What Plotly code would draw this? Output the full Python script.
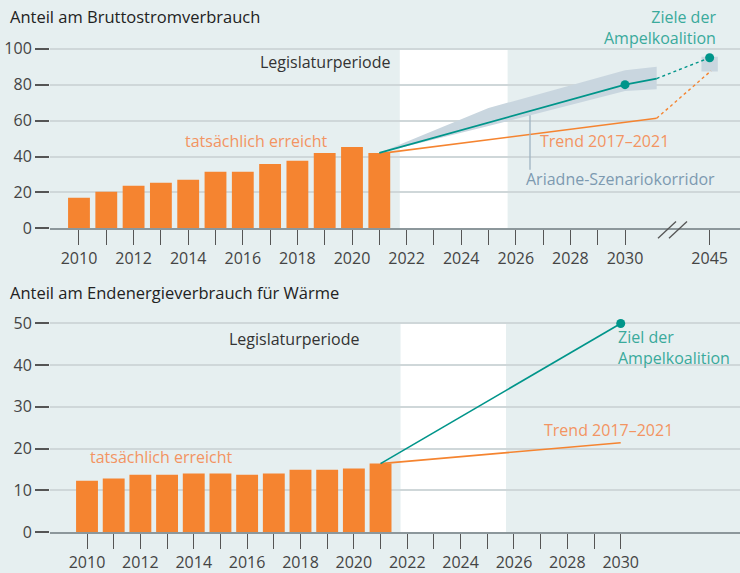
import plotly.graph_objects as go

W, H = 740, 573          # reference size (all pixel positions below refer to it)
FIG_H = 583              # rendered figure height (page is photographed at 573)

# ---------------- data ----------------
years = list(range(2010, 2022))
strom_share = [17.1, 20.4, 23.8, 25.4, 27.1, 31.5, 31.5, 35.9, 37.6, 42.0, 45.3, 42.0]
waerme_share = [12.3, 12.8, 13.7, 13.7, 14.0, 14.0, 13.7, 14.0, 14.9, 14.9, 15.2, 16.4]

# Strom: Ziele der Ampelkoalition
strom_target_years = [2021, 2030, 2031.16]
strom_target_vals = [42.0, 80.0, 83.4]
strom_goal_2045 = 95.0
# Strom: Trend 2017-2021
strom_trend_years = [2021, 2031.16]
strom_trend_vals = [41.6, 61.3]
strom_trend_2045 = 87.7
# Ariadne-Szenariokorridor
corridor_years = [2021, 2025, 2030, 2031.16]
corridor_low = [42.0, 57.0, 76.5, 77.5]
corridor_high = [42.0, 67.0, 88.0, 90.0]
corridor_2045 = [87.3, 95.6]

# Wärme
waerme_target_years = [2021, 2030]
waerme_target_vals = [16.4, 50.0]
waerme_trend_years = [2021, 2030]
waerme_trend_vals = [16.4, 21.4]

legislatur = [2021.75, 2025.7]

top_ticks = list(range(2010, 2031))
top_ticklabels = [str(y) if y % 2 == 0 else "" for y in top_ticks]
BREAK_POS = 2033.1   # axis position at which 2045 is drawn (broken axis)

# ---------------- styles ----------------
BG = "#e6eff0"
ORANGE = "#f58430"
ORANGE_TXT = "#f39462"
TEAL = "#00958a"
TEAL_TXT = "#3aaa9c"
CORR = "#c9d6df"
ARIADNE = "#7d9ab0"
GRID = "#cfd7d9"
FONT = "Open Sans"
ANN_SIZE = 16
TICK_SIZE = 16


def px(x):
    return x / W


def py(y):
    return 1 - y / H


fig = go.Figure()

# ---------- top chart ----------
fig.add_trace(go.Scatter(
    x=corridor_years + corridor_years[::-1],
    y=corridor_high + corridor_low[::-1],
    fill="toself", fillcolor=CORR, line=dict(width=0), mode="lines",
    hoverinfo="skip", xaxis="x", yaxis="y"))
fig.add_trace(go.Bar(
    x=[BREAK_POS], y=[corridor_2045[1] - corridor_2045[0]], base=[corridor_2045[0]],
    width=0.6, marker=dict(color=CORR, line=dict(width=0)), xaxis="x", yaxis="y"))
fig.add_trace(go.Bar(
    x=years, y=strom_share, width=0.8,
    marker=dict(color=ORANGE, line=dict(width=0)), xaxis="x", yaxis="y"))
fig.add_trace(go.Scatter(
    x=strom_trend_years, y=strom_trend_vals, mode="lines",
    line=dict(color=ORANGE, width=1.6), xaxis="x", yaxis="y"))
fig.add_trace(go.Scatter(
    x=[strom_trend_years[-1], BREAK_POS + 0.05], y=[strom_trend_vals[-1], strom_trend_2045],
    mode="lines", line=dict(color=ORANGE, width=1.4, dash="dot"), xaxis="x", yaxis="y"))
fig.add_trace(go.Scatter(
    x=strom_target_years, y=strom_target_vals, mode="lines",
    line=dict(color=TEAL, width=1.8), xaxis="x", yaxis="y"))
fig.add_trace(go.Scatter(
    x=[strom_target_years[-1], BREAK_POS], y=[strom_target_vals[-1], strom_goal_2045],
    mode="lines", line=dict(color=TEAL, width=1.4, dash="dot"), xaxis="x", yaxis="y"))
fig.add_trace(go.Scatter(
    x=[2030, BREAK_POS], y=[strom_target_vals[1], strom_goal_2045], mode="markers",
    marker=dict(color=TEAL, size=9), xaxis="x", yaxis="y"))

# ---------- bottom chart ----------
fig.add_trace(go.Bar(
    x=years, y=waerme_share, width=0.82,
    marker=dict(color=ORANGE, line=dict(width=0)), xaxis="x2", yaxis="y2"))
fig.add_trace(go.Scatter(
    x=waerme_trend_years, y=waerme_trend_vals, mode="lines",
    line=dict(color=ORANGE, width=1.6), xaxis="x2", yaxis="y2"))
fig.add_trace(go.Scatter(
    x=waerme_target_years, y=waerme_target_vals, mode="lines",
    line=dict(color=TEAL, width=1.6), xaxis="x2", yaxis="y2"))
fig.add_trace(go.Scatter(
    x=[waerme_target_years[-1]], y=[waerme_target_vals[-1]], mode="markers",
    marker=dict(color=TEAL, size=9), xaxis="x2", yaxis="y2"))

# ---------- shapes ----------
shapes = [
    dict(type="rect", xref="x", yref="y", x0=legislatur[0], x1=legislatur[1], y0=0, y1=100,
         fillcolor="white", line=dict(width=0), layer="below"),
    dict(type="rect", xref="x2", yref="y2", x0=legislatur[0], x1=legislatur[1], y0=0, y1=50,
         fillcolor="white", line=dict(width=0), layer="below"),
    # Ariadne leader line
    dict(type="line", xref="x", yref="y", x0=2026.52, x1=2026.52, y0=32.6, y1=63,
         line=dict(color="#9fb3c2", width=1.3)),
    # axis break marks
    dict(type="line", xref="paper", yref="paper", x0=px(658), x1=px(676), y0=py(237), y1=py(220),
         line=dict(color="#555", width=1.3)),
    dict(type="line", xref="paper", yref="paper", x0=px(669), x1=px(687), y0=py(237), y1=py(220),
         line=dict(color="#555", width=1.3)),
]


def ann(text, x, y, color, xanchor="left", size=ANN_SIZE, align="left"):
    return dict(text=text, xref="paper", yref="paper", x=px(x), y=py(y), xanchor=xanchor,
                yanchor="middle", showarrow=False, align=align,
                font=dict(family=FONT, size=size, color=color))


annotations = [
    ann("Anteil am Bruttostromverbrauch", 8, 14, "#222", size=16.5),
    ann("Anteil am Endenergieverbrauch für Wärme", 8, 292, "#222", size=16.5),
    ann("Legislaturperiode", 392, 59, "#333", "right"),
    ann("Legislaturperiode", 361, 338, "#333", "right"),
    ann("tatsächlich erreicht", 183, 139, ORANGE_TXT),
    ann("tatsächlich erreicht", 88, 457, ORANGE_TXT),
    ann("Trend 2017–2021", 538, 139, ORANGE_TXT),
    ann("Trend 2017–2021", 542, 430, ORANGE_TXT),
    ann("Ariadne-Szenariokorridor", 524, 177, ARIADNE),
    ann("Ziele der<br>Ampelkoalition", 718, 25, TEAL_TXT, "right", align="right"),
    ann("Ziel der<br>Ampelkoalition", 616, 347, TEAL_TXT, "left"),
]

tickfont = dict(family=FONT, size=TICK_SIZE, color="#444")

fig.update_layout(
    width=W, height=FIG_H, autosize=False,
    margin=dict(l=0, r=0, t=0, b=0, pad=0),
    paper_bgcolor=BG, plot_bgcolor=BG,
    showlegend=False, barmode="overlay",
    font=dict(family=FONT, size=15, color="#333"),
    shapes=shapes, annotations=annotations,
    xaxis=dict(domain=[50 / W, 1], range=[2008.938, 2034.212], anchor="y",
               tickmode="array", tickvals=top_ticks + [BREAK_POS],
               ticktext=top_ticklabels + ["2045"],
               ticks="outside", ticklen=15, tickwidth=1.4, tickcolor="#555",
               showline=True, linecolor="#8c979b", linewidth=1.6,
               showgrid=False, zeroline=False, tickfont=tickfont),
    yaxis=dict(domain=[py(227), py(37)], range=[0, 105], anchor="x",
               tickmode="array", tickvals=[0, 20, 40, 60, 80, 100],
               ticks="outside", ticklen=14, tickwidth=1.6, tickcolor="#555",
               showgrid=True, gridcolor=GRID, gridwidth=1.6,
               zeroline=False, showline=False, tickfont=tickfont),
    xaxis2=dict(domain=[50 / W, 1], range=[2008.613, 2034.47], anchor="y2",
                tickmode="array", tickvals=top_ticks, ticktext=top_ticklabels,
                ticks="outside", ticklen=15, tickwidth=1.4, tickcolor="#555",
                showline=True, linecolor="#8c979b", linewidth=1.6,
                showgrid=False, zeroline=False, tickfont=tickfont),
    yaxis2=dict(domain=[py(532.7), py(314.3)], range=[0, 52], anchor="x2",
                tickmode="array", tickvals=[0, 10, 20, 30, 40, 50],
                ticks="outside", ticklen=14, tickwidth=1.6, tickcolor="#555",
                showgrid=True, gridcolor=GRID, gridwidth=1.6,
                zeroline=False, showline=False, tickfont=tickfont),
)

fig.write_html(
    "out.html",
    config={"displayModeBar": False},
    post_script=("document.body.style.margin='0';document.body.style.overflow='hidden';"
                 "document.body.style.background='" + BG + "';"),
)
